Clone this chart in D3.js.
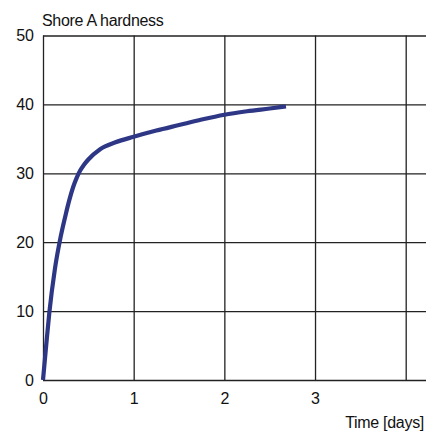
<!DOCTYPE html>
<html lang="en">
  <head>
    <meta charset="utf-8">
    <script src="https://cdn.jsdelivr.net/npm/d3@7"></script>
    <title>Shore A hardness</title>
    <style>
      body { margin: 0; background: #fff; }
      svg text { font-family: "Liberation Sans", Arial, sans-serif; fill: #111; }
    </style>
  </head>
  <body>
    <script>
      // curing curve
      var days = [0, 0.035, 0.07, 0.13, 0.195, 0.25, 0.29, 0.33, 0.37, 0.41, 0.45, 0.5, 0.63, 0.8, 1.0, 1.25, 1.5, 1.75, 2.0, 2.25, 2.5, 2.68];
      var hardness = [0, 5.0, 9.8, 16.0, 20.8, 24.0, 26.1, 27.9, 29.3, 30.4, 31.2, 32.0, 33.5, 34.5, 35.3, 36.2, 37.0, 37.8, 38.5, 39.0, 39.4, 39.7];
      var xTicks = [0, 1, 2, 3, 4];
      var yTicks = [0, 10, 20, 30, 40, 50];

      var w = 435, h = 434;
      var margin = { left: 43, top: 35.5, bottom: 380 };
      var gridRight = 426;

      var svg = d3.select("body").append("svg")
        .attr("width", w)
        .attr("height", h);

      var x = d3.scaleLinear().domain([0, 4]).range([margin.left, 405.7]);
      var y = d3.scaleLinear().domain([0, 50]).range([margin.bottom, margin.top]);

      // horizontal grid + y labels
      var yaxis = svg.append("g")
        .attr("transform", "translate(" + margin.left + ",0)")
        .call(d3.axisLeft(y).tickValues(yTicks).tickFormat(d3.format("d"))
          .tickSize(-(gridRight - margin.left)).tickPadding(9));
      // vertical grid + x labels (no label at 4)
      var xaxis = svg.append("g")
        .attr("transform", "translate(0," + margin.bottom + ")")
        .call(d3.axisBottom(x).tickValues(xTicks)
          .tickFormat(function(d) { return d === 4 ? "" : d; })
          .tickSize(-(margin.bottom - margin.top)).tickPadding(13));

      [xaxis, yaxis].forEach(function(g) {
        g.select(".domain").remove();
        g.selectAll(".tick line").attr("stroke", "#222").attr("stroke-width", 1.3);
        g.selectAll(".tick text").style("font-size", "16px");
      });

      var pts = days.map(function(d, i) { return [d, hardness[i]]; });
      var line = d3.line()
        .x(function(d) { return x(d[0]); })
        .y(function(d) { return y(d[1]); })
        .curve(d3.curveMonotoneX);

      svg.append("path")
        .datum(pts)
        .attr("d", line)
        .attr("fill", "none")
        .attr("stroke", "#2d3785")
        .attr("stroke-width", 4.2)
        .attr("stroke-linecap", "butt");

      // titles
      svg.append("text")
        .attr("x", 42)
        .attr("y", 26)
        .style("font-size", "16px")
        .style("letter-spacing", "-0.3px")
        .text("Shore A hardness");

      svg.append("text")
        .attr("x", 424)
        .attr("y", 428)
        .attr("text-anchor", "end")
        .style("font-size", "16px")
        .style("letter-spacing", "-0.3px")
        .text("Time [days]");
    </script>
  </body>
</html>
